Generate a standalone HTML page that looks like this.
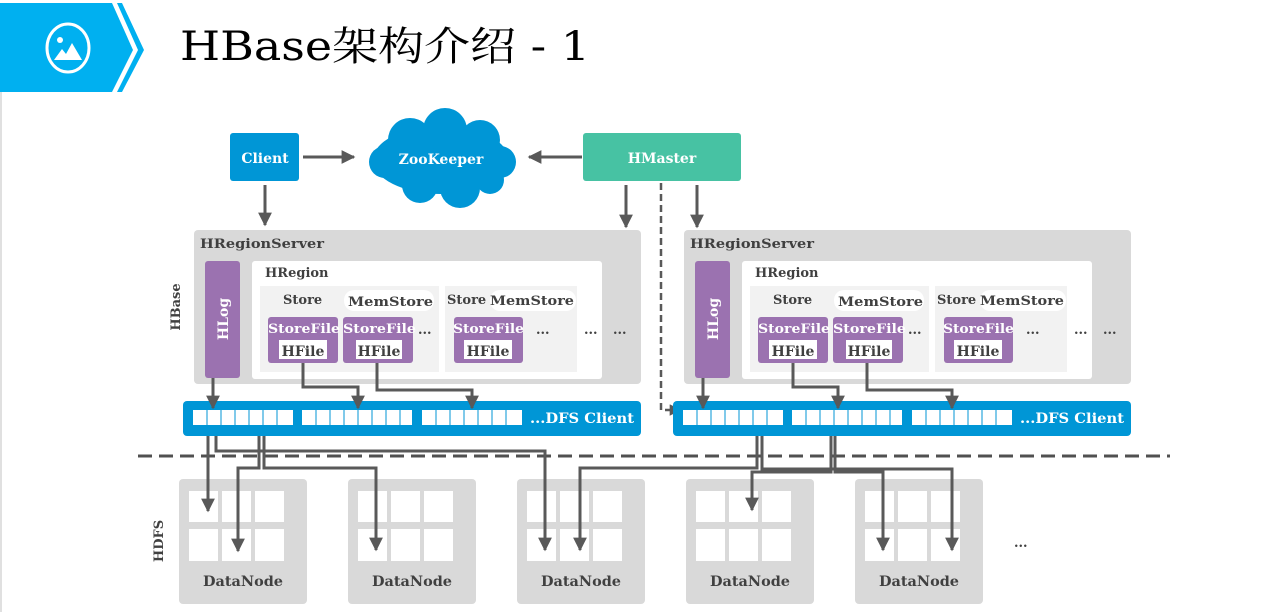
<!DOCTYPE html>
<html><head><meta charset="utf-8"><style>
html,body{margin:0;padding:0;background:#fff;width:1266px;height:612px;overflow:hidden}
svg text{font-family:"DejaVu Serif","Noto Serif CJK SC",serif;font-weight:bold}
</style></head><body>
<svg width="1266" height="612" viewBox="0 0 1266 612" xmlns="http://www.w3.org/2000/svg">
<defs>
<marker id="a" viewBox="0 0 10 10" refX="9" refY="5" markerWidth="4.6" markerHeight="4.6" orient="auto" markerUnits="strokeWidth"><path d="M0,0 L10,5 L0,10 z" fill="#595959"/></marker>
<g id="srv">
<rect x="194" y="230" width="447" height="154" rx="4" fill="#d9d9d9"/>
<text x="200" y="248" font-size="13" fill="#404040" textLength="124" lengthAdjust="spacingAndGlyphs">HRegionServer</text>
<rect x="205" y="261" width="35" height="117" rx="3" fill="#9b72b0"/>
<text transform="translate(228,319) rotate(-90)" text-anchor="middle" font-size="14" fill="#fff">HLog</text>
<rect x="252" y="261" width="350" height="118" rx="3" fill="#fff"/>
<text x="265" y="277" font-size="13" fill="#404040">HRegion</text>
<rect x="260" y="286" width="179" height="86" fill="#f2f2f2"/>
<rect x="445" y="286" width="132" height="86" fill="#f2f2f2"/>
<rect x="344" y="290" width="90" height="21" rx="10" fill="#fff"/>
<rect x="490" y="290" width="86" height="21" rx="10" fill="#fff"/>
<text x="283" y="304" font-size="13" fill="#404040">Store</text>
<text x="348" y="306" font-size="13" fill="#404040" textLength="85" lengthAdjust="spacingAndGlyphs">MemStore</text>
<text x="447" y="304" font-size="13" fill="#404040">Store</text>
<text x="490" y="305" font-size="13" fill="#404040" textLength="84" lengthAdjust="spacingAndGlyphs">MemStore</text>
<rect x="268" y="317" width="70" height="46" rx="3" fill="#9b72b0"/>
<rect x="343" y="317" width="70" height="46" rx="3" fill="#9b72b0"/>
<rect x="454" y="317" width="69" height="46" rx="3" fill="#9b72b0"/>
<text x="268" y="333" font-size="13" fill="#fff" textLength="72" lengthAdjust="spacingAndGlyphs">StoreFile</text>
<text x="343" y="333" font-size="13" fill="#fff" textLength="73" lengthAdjust="spacingAndGlyphs">StoreFile</text>
<text x="453" y="333" font-size="13" fill="#fff" textLength="71" lengthAdjust="spacingAndGlyphs">StoreFile</text>
<rect x="279" y="340" width="48" height="19" fill="#fff"/>
<rect x="356" y="340" width="46" height="19" fill="#fff"/>
<rect x="464" y="340" width="48" height="19" fill="#fff"/>
<text x="303" y="356" text-anchor="middle" font-size="14" fill="#404040">HFile</text>
<text x="379" y="356" text-anchor="middle" font-size="14" fill="#404040">HFile</text>
<text x="488" y="356" text-anchor="middle" font-size="14" fill="#404040">HFile</text>
<text x="418" y="334" font-size="13" fill="#404040">...</text>
<text x="536" y="334" font-size="13" fill="#404040">...</text>
<text x="584" y="334" font-size="13" fill="#404040">...</text>
<text x="613" y="334" font-size="13" fill="#404040">...</text>
<rect x="183" y="401" width="458" height="35" rx="4" fill="#0096d6"/>
<g fill="#fff"><rect x="193" y="410" width="100" height="15"/><rect x="302" y="410" width="110" height="15"/><rect x="422" y="410" width="100" height="15"/></g>
<g stroke="#0096d6" stroke-width="1">
<path d="M207 410v15M221 410v15M235 410v15M249 410v15M263 410v15M277 410v15M316 410v15M330 410v15M344 410v15M358 410v15M372 410v15M386 410v15M400 410v15M436 410v15M450 410v15M464 410v15M478 410v15M492 410v15M506 410v15"/></g>
<text x="530" y="423" font-size="14" fill="#fff" textLength="104" lengthAdjust="spacingAndGlyphs">...DFS Client</text>
</g>
<g id="dn">
<rect x="179" y="479" width="128" height="125" rx="4" fill="#d9d9d9"/>
<g fill="#fff"><rect x="189" y="491" width="29" height="31"/><rect x="222" y="491" width="29" height="31"/><rect x="255" y="491" width="29" height="31"/>
<rect x="189" y="529" width="29" height="32"/><rect x="222" y="529" width="29" height="32"/><rect x="255" y="529" width="29" height="32"/></g>
<text x="243" y="586" text-anchor="middle" font-size="14" fill="#404040" textLength="80" lengthAdjust="spacingAndGlyphs">DataNode</text>
</g>
</defs>

<line x1="1" y1="92" x2="1" y2="612" stroke="#e0e0e0" stroke-width="2"/>
<polygon points="0,3 112,3 133,50 112,92 0,92" fill="#00b0f0"/>
<polygon points="117,3 122,3 144,50 122,92 117,92 138,50" fill="#00b0f0"/>
<ellipse cx="68" cy="48" rx="21" ry="24" fill="none" stroke="#fff" stroke-width="3"/>
<circle cx="60" cy="40" r="3" fill="#fff"/>
<polygon points="54,60 62,49 66,54 72,43 82,60" fill="#fff"/>
<text x="180" y="60" font-size="40" style="font-weight:normal" fill="#000" textLength="410" lengthAdjust="spacingAndGlyphs">HBase架构介绍 - 1</text>

<rect x="230" y="133" width="69" height="48" rx="3" fill="#0096d6"/>
<text x="265" y="163" text-anchor="middle" font-size="14" fill="#fff">Client</text>
<rect x="583" y="133" width="158" height="48" rx="3" fill="#47c2a3"/>
<text x="662" y="163" text-anchor="middle" font-size="14" fill="#fff">HMaster</text>
<g fill="#0096d6">
<ellipse cx="441" cy="160" rx="68" ry="34"/>
<circle cx="410" cy="140" r="22"/><circle cx="445" cy="130" r="22"/><circle cx="480" cy="140" r="20"/>
<circle cx="385" cy="162" r="16"/><circle cx="500" cy="162" r="16"/>
<circle cx="420" cy="185" r="18"/><circle cx="460" cy="188" r="20"/><circle cx="490" cy="180" r="14"/>
</g>
<text x="441" y="164" text-anchor="middle" font-size="14" fill="#fff">ZooKeeper</text>

<g stroke="#595959" stroke-width="3" fill="none" marker-end="url(#a)">
<path d="M303 157H354"/>
<path d="M582 157H529"/>
<path d="M265 185V225"/>
<path d="M626 185V227"/>
<path d="M697 185V227"/>
</g>
<path d="M661 183V410H675" stroke="#595959" stroke-width="2.5" fill="none" stroke-dasharray="7,4"/>
<path d="M672 410l8,0" stroke="#595959" stroke-width="2.5" marker-end="url(#a)"/>

<use href="#srv"/>
<g transform="translate(490,0)"><use href="#srv"/></g>

<text transform="translate(180,307) rotate(-90)" text-anchor="middle" font-size="13" fill="#404040">HBase</text>
<text transform="translate(163,541) rotate(-90)" text-anchor="middle" font-size="13" fill="#404040">HDFS</text>

<line x1="138" y1="456" x2="1170" y2="456" stroke="#505050" stroke-width="3" stroke-dasharray="14,7"/>

<use href="#dn"/>
<g transform="translate(169,0)"><use href="#dn"/></g>
<g transform="translate(338,0)"><use href="#dn"/></g>
<g transform="translate(507,0)"><use href="#dn"/></g>
<g transform="translate(676,0)"><use href="#dn"/></g>
<text x="1014" y="547" font-size="13" fill="#404040">...</text>

<g stroke="#595959" stroke-width="3" fill="none" marker-end="url(#a)">
<path d="M213 378V408"/>
<path d="M303 363V387H358V408"/>
<path d="M377 363V390H472V408"/>
<path d="M703 378V408"/>
<path d="M793 363V387H838V408"/>
<path d="M867 363V390H952V408"/>
<path d="M208 436V511"/>
<path d="M216 436V451H545V550"/>
<path d="M259 436V468H238V551"/>
<path d="M264 436V468H376V550"/>
<path d="M757 436V468H580V550"/>
<path d="M762 436V469H952V550"/>
<path d="M831 436V472H752V510"/>
<path d="M835 436V472H883V550"/>
</g>
</svg>
</body></html>
